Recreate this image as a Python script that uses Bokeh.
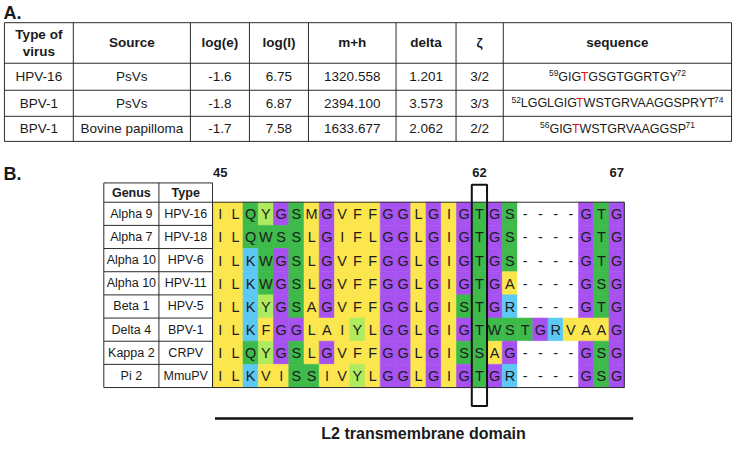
from bokeh.plotting import figure
from bokeh.models import Range1d, ColumnDataSource
from bokeh.embed import file_html
from bokeh.resources import INLINE
from bokeh.core.properties import value

# ---------------- Part A data ----------------
header_a = ["Type of\nvirus", "Source", "log(e)", "log(I)", "m+h", "delta", "ζ", "sequence"]
virus_type = ["HPV-16", "BPV-1", "BPV-1"]
source = ["PsVs", "PsVs", "Bovine papilloma"]
log_e = [-1.6, -1.8, -1.7]
log_i = [6.75, 6.87, 7.58]
m_h = [1320.558, 2394.100, 1633.677]
delta = [1.201, 3.573, 2.062]
zeta = ["3/2", "3/3", "2/2"]
seq_start = [59, 52, 56]
seq_end = [72, 74, 71]
peptide = ["GIGTGSGTGGRTGY", "LGGLGIGTWSTGRVAAGGSPRYT", "GIGTWSTGRVAAGGSP"]
modified_motif = "GIGT"

# ---------------- Part B data ----------------
header_b = ["Genus", "Type"]
genus = ["Alpha 9", "Alpha 7", "Alpha 10", "Alpha 10", "Beta 1", "Delta 4", "Kappa 2", "Pi 2"]
strain = ["HPV-16", "HPV-18", "HPV-6", "HPV-11", "HPV-5", "BPV-1", "CRPV", "MmuPV"]
alignment = [
    "ILQYGSMGVFFGGLGIGTGS----GTG",
    "ILQWSSLGIFLGGLGIGTGS----GTG",
    "ILKWGSLGVFFGGLGIGTGS----GTG",
    "ILKWGSLGVFFGGLGIGTGA----GSG",
    "ILKYGSAGVFFGGLGISTGR----GTG",
    "ILKFGGLAIYLGGLGIGTWSTGRVAAG",
    "ILQYGSLGVFFGGLGISSAG----GSG",
    "ILKVISSIVYLGGLGIGTGR----GSG",
]
first_residue = 45
labelled_residues = [45, 62, 67]
boxed_residue = 62
domain_label = "L2 transmembrane domain"

# ---------------- styles ----------------
FONT = value("Liberation Sans")
YEL, PUR, GRN, LGR, CYA = "#FCE64E", "#A752F0", "#3DBA4A", "#AEEB5E", "#5CC9F5"
res_color = {}
for c in "ILMVFA":
    res_color[c] = YEL
res_color["G"] = PUR
for c in "STQW":
    res_color[c] = GRN
for c in "KR":
    res_color[c] = CYA
res_color["Y"] = LGR
res_color["-"] = "#FFFFFF"

# Arial / Liberation Sans advance widths (1/1000 em)
AW = {"A": 667, "B": 667, "C": 722, "D": 722, "E": 667, "F": 611, "G": 778, "H": 722,
      "I": 278, "K": 667, "L": 556, "M": 833, "N": 722, "P": 667, "Q": 778, "R": 722,
      "S": 667, "T": 611, "V": 667, "W": 944, "Y": 667}
for d in "0123456789":
    AW[d] = 556


def tw(s, size):
    return sum(AW[c] for c in s) * size / 1000.0


p = figure(width=734, height=444, x_range=Range1d(2, 748), y_range=Range1d(461, 1),
           output_backend="svg", toolbar_location=None, min_border=0,
           x_axis_location=None, y_axis_location=None)
p.grid.visible = False
p.outline_line_color = None
p.background_fill_color = "white"
p.border_fill_color = "white"


def txt(xs, ys, texts, size, bold=False, color="#1a1a1a", align="center", baseline="middle"):
    src = ColumnDataSource(dict(x=xs, y=ys, t=texts))
    p.text(x="x", y="y", text="t", source=src, text_font=FONT, text_font_size=size,
           text_font_style="bold" if bold else "normal", text_color=color,
           text_align=align, text_baseline=baseline)


def segs(x0, y0, x1, y1, width=1, color="#2b2b2b"):
    p.segment(x0=x0, y0=y0, x1=x1, y1=y1, line_color=color, line_width=width)


# ================= Part A =================
txt([5], [14], ["A."], "18px", bold=True, align="left")
col_a = [6, 76, 195, 255, 315, 404, 465, 513, 745]
row_a = [24, 66, 94, 121, 147]
segs([col_a[0]] * len(row_a), row_a, [col_a[-1]] * len(row_a), row_a)
segs(col_a, [row_a[0]] * len(col_a), col_a, [row_a[-1]] * len(col_a))
cx_a = [(col_a[i] + col_a[i + 1]) / 2 for i in range(len(col_a) - 1)]
cy_a = [(row_a[i] + row_a[i + 1]) / 2 for i in range(len(row_a) - 1)]

hx, hy, ht = [], [], []
for i, h in enumerate(header_a):
    parts = h.split("\n")
    if len(parts) == 2:
        hx += [cx_a[i], cx_a[i]]
        hy += [cy_a[0] - 9, cy_a[0] + 9]
        ht += parts
    else:
        hx.append(cx_a[i]); hy.append(cy_a[0]); ht.append(h)
txt(hx, hy, ht, "13.5px", bold=True)

dx, dy, dt = [], [], []
for r in range(len(virus_type)):
    vals = [virus_type[r], source[r], "%.1f" % log_e[r], "%.2f" % log_i[r],
            "%.3f" % m_h[r], "%.3f" % delta[r], zeta[r]]
    for i, v in enumerate(vals):
        dx.append(cx_a[i]); dy.append(cy_a[r + 1]); dt.append(v)
txt(dx, dy, dt, "13.5px")

# sequences with superscripts and red modified T
MS, SS = 12.5, 8.5
sx_sup, sy_sup, st_sup = [], [], []
sx_blk, sy_blk, st_blk = [], [], []
sx_red, sy_red, st_red = [], [], []
for r in range(len(peptide)):
    pep = peptide[r]
    k = pep.index(modified_motif) + len(modified_motif) - 1
    pre, left, mid, right, post = str(seq_start[r]), pep[:k], pep[k], pep[k + 1:], str(seq_end[r])
    total = tw(pre, SS) + tw(left, MS) + tw(mid, MS) + tw(right, MS) + tw(post, SS)
    x = cx_a[7] - total / 2
    cy = cy_a[r + 1]
    sx_sup.append(x); sy_sup.append(cy - 3.5); st_sup.append(pre); x += tw(pre, SS)
    sx_blk.append(x); sy_blk.append(cy); st_blk.append(left); x += tw(left, MS)
    sx_red.append(x); sy_red.append(cy); st_red.append(mid); x += tw(mid, MS)
    sx_blk.append(x); sy_blk.append(cy); st_blk.append(right); x += tw(right, MS)
    sx_sup.append(x); sy_sup.append(cy - 3.5); st_sup.append(post)
txt(sx_sup, sy_sup, st_sup, "%.1fpx" % SS, align="left")
txt(sx_blk, sy_blk, st_blk, "%.1fpx" % MS, align="left")
txt(sx_red, sy_red, st_red, "%.1fpx" % MS, align="left", color="#E8141B")

# ================= Part B =================
txt([5], [181], ["B."], "18px", bold=True, align="left")
X0, CW = 217.5, 15.5
Y0, RH = 210, 24
HEAD_TOP = 190
ncol = len(alignment[0])
nrow = len(alignment)

# cells
L, R, T, B, F = [], [], [], [], []
lx, ly, lt = [], [], []
for j, seq in enumerate(alignment):
    for i, c in enumerate(seq):
        L.append(X0 + i * CW); R.append(X0 + (i + 1) * CW)
        T.append(Y0 + j * RH); B.append(Y0 + (j + 1) * RH)
        F.append(res_color[c])
        lx.append(X0 + (i + 0.5) * CW); ly.append(Y0 + (j + 0.5) * RH + 0.5); lt.append(c)
p.quad(left=L, right=R, top=T, bottom=B, fill_color=F, line_color=F, line_width=0.6)
txt(lx, ly, lt, "14.5px", color="#1c1c1c")

# alignment outline
p.quad(left=[X0], right=[X0 + ncol * CW], top=[Y0], bottom=[Y0 + nrow * RH],
       fill_color=None, line_color="#2b2b2b", line_width=1)

# left table
col_b = [107, 163, X0]
row_b = [HEAD_TOP] + [Y0 + j * RH for j in range(nrow + 1)]
segs([col_b[0]] * len(row_b), row_b, [col_b[-1]] * len(row_b), row_b)
segs(col_b, [row_b[0]] * 3, col_b, [row_b[-1]] * 3)
cxb = [(col_b[0] + col_b[1]) / 2, (col_b[1] + col_b[2]) / 2]
txt(cxb, [(HEAD_TOP + Y0) / 2] * 2, header_b, "12.5px", bold=True)
txt([cxb[0]] * nrow + [cxb[1]] * nrow,
    [Y0 + (j + 0.5) * RH for j in range(nrow)] * 2,
    genus + strain, "12.5px")


# residue number -> column (reference sequence numbering)
def col_of(resnum):
    count = first_residue - 1
    for i, c in enumerate(alignment[0]):
        if c != "-":
            count += 1
            if count == resnum:
                return i
    return None


txt([X0 + (col_of(n) + 0.5) * CW for n in labelled_residues], [179] * len(labelled_residues),
    [str(n) for n in labelled_residues], "13px", bold=True)

bc = col_of(boxed_residue)
p.quad(left=[X0 + bc * CW], right=[X0 + (bc + 1) * CW], top=[Y0 - 18], bottom=[Y0 + nrow * RH + 19],
       fill_color=None, line_color="#111111", line_width=2)

# domain bar and label
segs([220], [434], [645], [434], width=2.5, color="#111111")
txt([432], [450], [domain_label], "16px", bold=True)

open("out.html", "w").write(file_html(p, INLINE))
